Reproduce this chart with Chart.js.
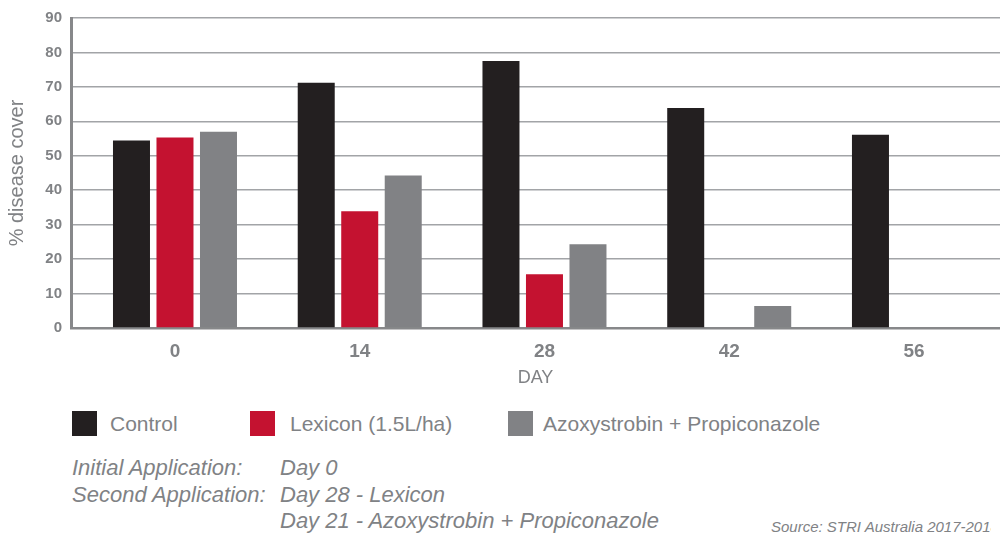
<!DOCTYPE html>
<html><head><meta charset="utf-8">
<script src="https://cdn.jsdelivr.net/npm/chart.js@4"></script>
<style>
html,body{margin:0;padding:0;background:#fff;overflow:hidden;width:1000px;height:534px}
#wrap{position:relative;width:1000px;height:534px;font-family:"Liberation Sans",Arial,sans-serif;color:#808285;overflow:hidden}
#cv{position:absolute;left:0;top:0}
.sw{position:absolute;width:25px;height:25px;top:411px}
.lt{position:absolute;top:411px;font-size:21px;line-height:25px;white-space:nowrap}
.note{position:absolute;font-size:22px;line-height:26.5px;font-style:italic;white-space:nowrap}
.src{position:absolute;left:771px;top:518px;width:220px;overflow:hidden;font-size:15px;line-height:18px;font-style:italic;white-space:nowrap}
</style></head>
<body>
<div id="wrap">
<canvas id="cv" width="1000" height="400" style="width:1000px;height:400px"></canvas>
<div id="legend"></div>
<div id="notes"></div>
<div class="src" id="src"></div>
</div>
<script>
// ---- data ----
const dayValues = [0, 14, 28, 42, 56];
const xTickLabels = ['0', '14', '28', '42', '56'];
const control = [54.4, 71.2, 77.5, 63.9, 56.1];
const lexicon = [55.3, 33.9, 15.6, 0, 0];
const azoxy = [57.0, 44.3, 24.3, 6.4, 0];
const seriesNames = ['Control', 'Lexicon (1.5L/ha)', 'Azoxystrobin + Propiconazole'];
const seriesColors = ['#231f20', '#c41230', '#818285'];
const xTitle = 'DAY';
const yTitle = '% disease cover';
const noteLabels = ['Initial Application:', 'Second Application:', ''];
const noteValues = ['Day 0', 'Day 28 - Lexicon', 'Day 21 - Azoxystrobin + Propiconazole'];
const sourceText = 'Source: STRI Australia 2017-2018';

// ---- chart ----
const FONT = '"Liberation Sans", Arial, sans-serif';
const TXT = '#808285';
const seriesValues = [control, lexicon, azoxy];

new Chart(document.getElementById('cv'), {
  type: 'bar',
  data: {
    datasets: seriesValues.map((vals, k) => ({
      label: seriesNames[k],
      data: dayValues.map((d, i) => ({x: d, y: vals[i]})),
      backgroundColor: seriesColors[k],
      borderWidth: 0,
      categoryPercentage: 0.7064,
      barPercentage: 0.8506
    }))
  },
  options: {
    responsive: false,
    animation: false,
    layout: {padding: {top: 17, right: 0, left: 0, bottom: 0}},
    plugins: {legend: {display: false}, tooltip: {enabled: false}},
    scales: {
      x: {
        type: 'linear',
        offset: false,
        min: -7.88, max: 62.52,
        afterBuildTicks: s => { s.ticks = dayValues.map(v => ({value: v})); },
        afterFit: s => { s.height = 72; },
        ticks: {
          autoSkip: false,
          callback: v => xTickLabels[dayValues.indexOf(v)],
          font: {family: FONT, size: 19, weight: 'bold'},
          color: TXT, padding: 12, maxRotation: 0
        },
        grid: {display: false, drawTicks: false},
        border: {display: true, color: '#87888a', width: 2.5},
        title: {display: true, text: xTitle, font: {family: FONT, size: 18}, color: TXT, padding: {top: 0, bottom: 11}}
      },
      y: {
        min: 0, max: 90,
        afterFit: s => { s.width = 71; },
        ticks: {stepSize: 10, font: {family: FONT, size: 15, weight: 'bold'}, color: TXT, padding: 9},
        grid: {color: '#a2a4a7', lineWidth: 1.5, drawTicks: false},
        border: {display: true, color: '#87888a', width: 3},
        title: {display: true, text: yTitle, font: {family: FONT, size: 20}, color: TXT, padding: {top: 5, bottom: 0}}
      }
    }
  }
});

// ---- legend & notes (HTML text) ----
const swX = [72, 250, 508];
const ltX = [110, 290, 543];
const lg = document.getElementById('legend');
seriesNames.forEach((n, k) => {
  const s = document.createElement('div');
  s.className = 'sw'; s.style.left = swX[k] + 'px'; s.style.background = seriesColors[k];
  lg.appendChild(s);
  const t = document.createElement('div');
  t.className = 'lt'; t.style.left = ltX[k] + 'px'; t.textContent = n;
  lg.appendChild(t);
});
const nt = document.getElementById('notes');
noteLabels.forEach((l, i) => {
  const top = 455 + i * 26.5;
  if (l) {
    const a = document.createElement('div');
    a.className = 'note'; a.style.left = '72px'; a.style.top = top + 'px'; a.textContent = l;
    nt.appendChild(a);
  }
  const b = document.createElement('div');
  b.className = 'note'; b.style.left = '280px'; b.style.top = top + 'px'; b.textContent = noteValues[i];
  nt.appendChild(b);
});
document.getElementById('src').textContent = sourceText;
</script>
</body></html>
